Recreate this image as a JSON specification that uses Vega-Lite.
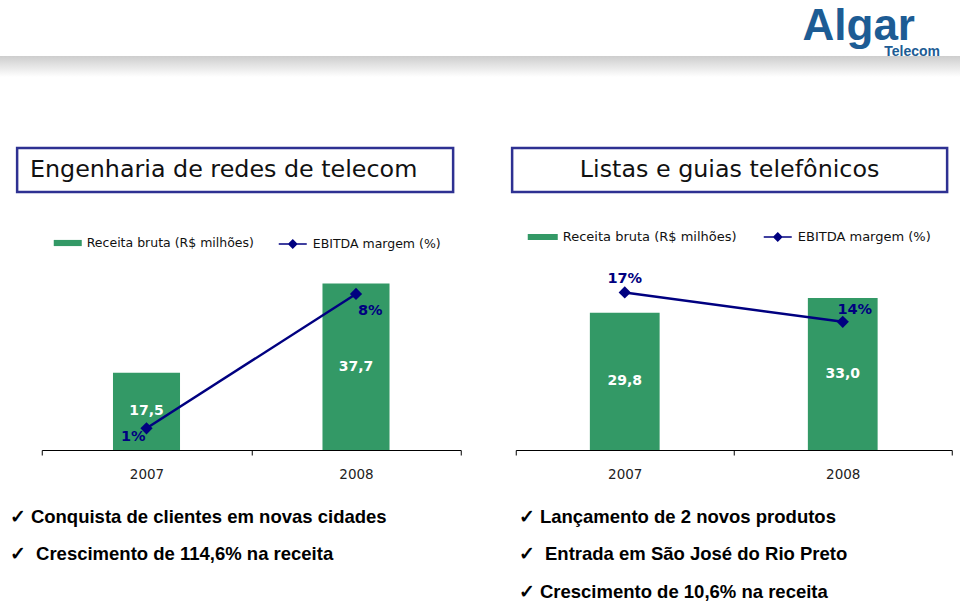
{
  "$schema": "https://vega.github.io/schema/vega-lite/v6.json",
  "background": "white",
  "padding": {"left": 0, "top": 5, "right": 0, "bottom": 0},
  "datasets": {
    "engenharia": [
      {"ano": "2007", "receita": 17.5, "margem": 0.01},
      {"ano": "2008", "receita": 37.7, "margem": 0.08}
    ],
    "listas": [
      {"ano": "2007", "receita": 29.8, "margem": 0.17},
      {"ano": "2008", "receita": 33.0, "margem": 0.14}
    ]
  },
  "title": {
    "text": "Algar",
    "anchor": "end",
    "frame": "bounds",
    "font": "Liberation Sans",
    "fontSize": 44,
    "fontWeight": "bold",
    "color": "#1d5c94",
    "offset": -4,
    "dx": -45
  },
  "spacing": 69,
  "vconcat": [
    {
      "width": 943,
      "height": 21,
      "title": {"text": "Telecom", "anchor": "end", "frame": "group", "offset": -3, "dx": -20,
        "font": "Liberation Sans", "fontSize": 14, "fontWeight": "bold", "color": "#1d5c94"},
      "data": {"values": [{"faixa": "topo"}]},
      "mark": {
        "type": "rect",
        "xOffset": -17,
        "fill": {"gradient": "linear", "x1": 0, "y1": 0, "x2": 0, "y2": 1,
          "stops": [{"offset": 0, "color": "#cdcdcd"}, {"offset": 1, "color": "#ffffff"}]}
      },
      "encoding": {
        "x": {"datum": 0, "type": "quantitative", "scale": {"domain": [0, 1]}, "axis": null},
        "x2": {"datum": 1}
      }
    },
    {
      "spacing": 24,
      "resolve": {
        "scale": {"x": "independent", "y": "independent", "fill": "independent", "stroke": "independent"},
        "legend": {"fill": "independent", "stroke": "independent"}
      },
      "hconcat": [
        {
          "spacing": 35,
          "center": true,
          "resolve": {
            "scale": {"x": "independent", "y": "independent", "fill": "independent", "stroke": "independent"},
            "legend": {"fill": "independent", "stroke": "independent"}
          },
          "vconcat": [
            {
              "width": 436,
              "height": 44,
              "view": {"stroke": "#2e3192", "strokeWidth": 2.5},
              "data": {"values": [{"titulo": "Engenharia de redes de telecom"}]},
              "mark": {"type": "text", "font": "DejaVu Sans", "fontSize": 23.8, "color": "#111111", "align": "center", "baseline": "middle", "dx": -11.5},
              "encoding": {
                "text": {"field": "titulo"},
                "y": {"datum": 0.5, "type": "quantitative", "scale": {"domain": [0, 1]},
                  "axis": {"orient": "right", "labels": false, "ticks": false, "domain": false, "grid": false, "title": null, "minExtent": 31.5, "maxExtent": 31.5}}
              }
            },
            {
              "width": 419,
              "height": 186,
              "data": {"name": "engenharia"},
              "title": {
                "text": ["\u2713 Conquista de clientes em novas cidades", "\u2713\u00a0\u00a0Crescimento de 114,6% na receita"],
                "orient": "bottom", "anchor": "start", "frame": "group", "dx": -32, "offset": 27,
                "font": "Liberation Sans", "fontSize": 18.5, "fontWeight": "bold", "color": "#000000", "lineHeight": 37.5
              },
              "encoding": {
                "x": {"field": "ano", "type": "ordinal",
                  "scale": {"paddingInner": 0, "paddingOuter": 0},
                  "axis": {"title": null, "tickBand": "extent", "labelAngle": 0, "domainColor": "#000000", "tickColor": "#000000", "tickSize": 5,
                    "labelFont": "DejaVu Sans", "labelFontSize": 13.5, "labelColor": "#222222", "labelPadding": 12, "grid": false}}
              },
              "layer": [
                {
                  "layer": [
                    {
                      "mark": {"type": "bar", "width": {"band": 0.32}},
                      "encoding": {
                        "y": {"field": "receita", "type": "quantitative", "scale": {"domain": [0, 42.1], "nice": false, "zero": false}, "axis": null},
                        "fill": {"datum": "Receita bruta (R$ milhões)", "type": "nominal", "scale": {"range": ["#339966"]},
                          "legend": {"orient": "none", "legendX": 12, "legendY": -35, "title": null, "padding": 0,
                            "symbolType": "M-1,-0.22H1V0.22H-1Z", "symbolSize": 784, "symbolStrokeWidth": 0,
                            "labelFont": "DejaVu Sans", "labelFontSize": 12.5, "labelColor": "#111111", "labelOffset": 5, "labelLimit": 400}}
                      }
                    },
                    {
                      "transform": [{"calculate": "datum.receita / 2", "as": "meio"}],
                      "mark": {"type": "text", "font": "DejaVu Sans", "fontSize": 14, "fontWeight": "bold", "color": "#ffffff"},
                      "encoding": {
                        "y": {"field": "meio", "type": "quantitative"},
                        "text": {"field": "receita", "type": "quantitative", "format": ".1f"}
                      }
                    }
                  ]
                },
                {
                  "layer": [
                    {
                      "mark": {"type": "line", "strokeWidth": 2.5, "fill": "#000080"},
                      "encoding": {
                        "y": {"field": "margem", "type": "quantitative", "scale": {"domain": [-0.0013, 0.0956], "nice": false, "zero": false}, "axis": null},
                        "stroke": {"datum": "EBITDA margem (%)", "type": "nominal", "scale": {"range": ["#000080"]},
                          "legend": {"orient": "none", "legendX": 236, "legendY": -35, "title": null, "padding": 0,
                            "symbolType": "M-1,0H1M0,-0.28L0.28,0L0,0.28L-0.28,0Z", "symbolSize": 784, "symbolStrokeWidth": 1.5, "symbolFillColor": "#000080",
                            "labelFont": "DejaVu Sans", "labelFontSize": 12.5, "labelColor": "#111111", "labelOffset": 5, "labelLimit": 400}}
                      }
                    },
                    {
                      "mark": {"type": "point", "shape": "diamond", "filled": true, "size": 150, "color": "#000080", "opacity": 1},
                      "encoding": {"y": {"field": "margem", "type": "quantitative"}}
                    },
                    {
                      "transform": [{"filter": "datum.ano == '2007'"}],
                      "mark": {"type": "text", "font": "DejaVu Sans", "fontSize": 14.5, "fontWeight": "bold", "color": "#000080", "align": "right", "dx": -1, "dy": 9},
                      "encoding": {"y": {"field": "margem", "type": "quantitative"}, "text": {"field": "margem", "type": "quantitative", "format": ".0%"}}
                    },
                    {
                      "transform": [{"filter": "datum.ano == '2008'"}],
                      "mark": {"type": "text", "font": "DejaVu Sans", "fontSize": 14.5, "fontWeight": "bold", "color": "#000080", "align": "left", "dx": 2, "dy": 17},
                      "encoding": {"y": {"field": "margem", "type": "quantitative"}, "text": {"field": "margem", "type": "quantitative", "format": ".0%"}}
                    }
                  ]
                }
              ],
              "resolve": {"scale": {"y": "independent"}}
            }
          ]
        },
        {
          "spacing": 28,
          "center": true,
          "resolve": {
            "scale": {"x": "independent", "y": "independent", "fill": "independent", "stroke": "independent"},
            "legend": {"fill": "independent", "stroke": "independent"}
          },
          "vconcat": [
            {
              "width": 435,
              "height": 44,
              "view": {"stroke": "#2e3192", "strokeWidth": 2.5},
              "data": {"values": [{"titulo": "Listas e guias telefônicos"}]},
              "mark": {"type": "text", "font": "DejaVu Sans", "fontSize": 23.8, "color": "#111111", "align": "center", "baseline": "middle"},
              "encoding": {
                "text": {"field": "titulo"},
                "y": {"datum": 0.5, "type": "quantitative", "scale": {"domain": [0, 1]},
                  "axis": {"orient": "right", "labels": false, "ticks": false, "domain": false, "grid": false, "title": null, "minExtent": 7.5, "maxExtent": 7.5}}
              }
            },
            {
              "width": 436,
              "height": 186,
              "data": {"name": "listas"},
              "title": {
                "text": ["\u2713 Lançamento de 2 novos produtos", "\u2713\u00a0\u00a0Entrada em São José do Rio Preto", "\u2713 Crescimento de 10,6% na receita"],
                "orient": "bottom", "anchor": "start", "frame": "group", "dx": 3, "offset": 27,
                "font": "Liberation Sans", "fontSize": 18.5, "fontWeight": "bold", "color": "#000000", "lineHeight": 37.5
              },
              "encoding": {
                "x": {"field": "ano", "type": "ordinal",
                  "scale": {"paddingInner": 0, "paddingOuter": 0},
                  "axis": {"title": null, "tickBand": "extent", "labelAngle": 0, "domainColor": "#000000", "tickColor": "#000000", "tickSize": 5,
                    "labelFont": "DejaVu Sans", "labelFontSize": 13.5, "labelColor": "#222222", "labelPadding": 12, "grid": false}}
              },
              "layer": [
                {
                  "layer": [
                    {
                      "mark": {"type": "bar", "width": {"band": 0.32}},
                      "encoding": {
                        "y": {"field": "receita", "type": "quantitative", "scale": {"domain": [0, 40.4], "nice": false, "zero": false}, "axis": null},
                        "fill": {"datum": "Receita bruta (R$ milhões)", "type": "nominal", "scale": {"range": ["#339966"]},
                          "legend": {"orient": "none", "legendX": 12, "legendY": -42, "title": null, "padding": 0,
                            "symbolType": "M-1,-0.2H1V0.2H-1Z", "symbolSize": 900, "symbolStrokeWidth": 0,
                            "labelFont": "DejaVu Sans", "labelFontSize": 13, "labelColor": "#111111", "labelOffset": 5, "labelLimit": 400}}
                      }
                    },
                    {
                      "transform": [{"calculate": "datum.receita / 2", "as": "meio"}],
                      "mark": {"type": "text", "font": "DejaVu Sans", "fontSize": 14, "fontWeight": "bold", "color": "#ffffff"},
                      "encoding": {
                        "y": {"field": "meio", "type": "quantitative"},
                        "text": {"field": "receita", "type": "quantitative", "format": ".1f"}
                      }
                    }
                  ]
                },
                {
                  "layer": [
                    {
                      "mark": {"type": "line", "strokeWidth": 2.5, "fill": "#000080"},
                      "encoding": {
                        "y": {"field": "margem", "type": "quantitative", "scale": {"domain": [0.0092, 0.199], "nice": false, "zero": false}, "axis": null},
                        "stroke": {"datum": "EBITDA margem (%)", "type": "nominal", "scale": {"range": ["#000080"]},
                          "legend": {"orient": "none", "legendX": 247, "legendY": -42, "title": null, "padding": 0,
                            "symbolType": "M-1,0H1M0,-0.28L0.28,0L0,0.28L-0.28,0Z", "symbolSize": 784, "symbolStrokeWidth": 1.5, "symbolFillColor": "#000080",
                            "labelFont": "DejaVu Sans", "labelFontSize": 13, "labelColor": "#111111", "labelOffset": 5, "labelLimit": 400}}
                      }
                    },
                    {
                      "mark": {"type": "point", "shape": "diamond", "filled": true, "size": 150, "color": "#000080", "opacity": 1},
                      "encoding": {"y": {"field": "margem", "type": "quantitative"}}
                    },
                    {
                      "transform": [{"filter": "datum.ano == '2007'"}],
                      "mark": {"type": "text", "font": "DejaVu Sans", "fontSize": 14.5, "fontWeight": "bold", "color": "#000080", "align": "center", "dy": -13},
                      "encoding": {"y": {"field": "margem", "type": "quantitative"}, "text": {"field": "margem", "type": "quantitative", "format": ".0%"}}
                    },
                    {
                      "transform": [{"filter": "datum.ano == '2008'"}],
                      "mark": {"type": "text", "font": "DejaVu Sans", "fontSize": 14.5, "fontWeight": "bold", "color": "#000080", "align": "center", "dx": 12, "dy": -12},
                      "encoding": {"y": {"field": "margem", "type": "quantitative"}, "text": {"field": "margem", "type": "quantitative", "format": ".0%"}}
                    }
                  ]
                }
              ],
              "resolve": {"scale": {"y": "independent"}}
            }
          ]
        }
      ]
    }
  ],
  "config": {
    "view": {"stroke": null},
    "axis": {"grid": false},
    "font": "DejaVu Sans",
    "locale": {"number": {"decimal": ",", "thousands": ".", "grouping": [3], "currency": ["R$ ", ""]}}
  }
}
